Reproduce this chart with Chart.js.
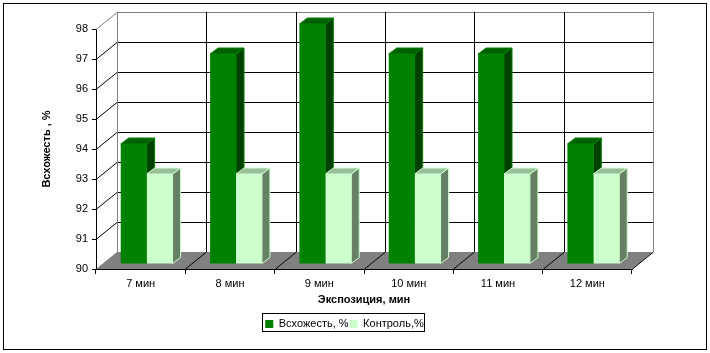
<!DOCTYPE html>
<html>
<head>
<meta charset="utf-8">
<style>
  html, body { margin: 0; padding: 0; background: #fff; }
  canvas { display: block; }
</style>
<script src="https://cdn.jsdelivr.net/npm/chart.js@4"></script>
</head>
<body>
<canvas id="chart" width="710" height="353"></canvas>
<script>
const categories = ["7 мин", "8 мин", "9 мин", "10 мин", "11 мин", "12 мин"];
const germination = [94, 97, 98, 97, 97, 94];
const control = [93, 93, 93, 93, 93, 93];
const yTicks = [90, 91, 92, 93, 94, 95, 96, 97, 98];

// how far the back wall and the bars sit behind the front axis
const wallDepth = { x: 21, y: 17 };
const barShift = { x: 6, y: 5 };
const barDepth = { x: 8, y: 6 };

const faces = [
  { top: "#006000", side: "#004000", edge: "#008000" },
  { top: "#99bf99", side: "#668066", edge: "#ccffcc" }
];

function poly(ctx, points, fill, stroke) {
  ctx.beginPath();
  points.forEach((p, i) => (i ? ctx.lineTo(p[0], p[1]) : ctx.moveTo(p[0], p[1])));
  ctx.closePath();
  if (fill) {
    ctx.fillStyle = fill;
    ctx.fill();
  }
  if (stroke) {
    ctx.strokeStyle = stroke;
    ctx.lineWidth = 1;
    ctx.stroke();
  }
}

function line(ctx, x1, y1, x2, y2, color) {
  ctx.beginPath();
  ctx.moveTo(x1, y1);
  ctx.lineTo(x2, y2);
  ctx.strokeStyle = color;
  ctx.lineWidth = 1;
  ctx.stroke();
}

const scene3d = {
  id: "scene3d",
  afterLayout(chart) {
    // legend is not centred on the plot in the original
    chart.legend.left += 8.5;
    chart.legend.right += 8.5;
  },
  beforeDatasetsDraw(chart) {
    const { ctx, chartArea: area, scales } = chart;
    const dx = wallDepth.x, dy = wallDepth.y;
    const backTop = area.top - dy, backBottom = area.bottom - dy;

    ctx.save();
    // floor
    poly(ctx, [[area.left, area.bottom], [area.right, area.bottom], [area.right + dx, backBottom], [area.left + dx, backBottom]], "#808080");

    // horizontal grid on the back wall and the diagonals on the side wall
    yTicks.forEach((v) => {
      const py = Math.round(scales.y.getPixelForValue(v)) + 0.5;
      if (v > 90 && v < 98) {
        line(ctx, area.left + dx, py - dy, area.right + dx, py - dy, "#000");
        line(ctx, area.left, py, area.left + dx, py - dy, "#000");
      }
      if (v === 98) {
        line(ctx, area.left, py, area.left + dx, py - dy, "#808080");
        line(ctx, area.left + dx, py - dy, area.right + dx, py - dy, "#808080");
      }
    });

    // vertical grid on the back wall, diagonals on the floor
    const step = (area.right - area.left) / categories.length;
    for (let i = 1; i <= categories.length; i++) {
      const px = Math.round(area.left + step * i) + 0.5;
      if (i < categories.length) line(ctx, px + dx, backTop, px + dx, backBottom, "#000");
      line(ctx, px, area.bottom, px + dx, backBottom, "#000");
    }
    line(ctx, area.left + dx + 0.5, backTop, area.left + dx + 0.5, backBottom, "#808080");
    line(ctx, area.right + dx + 0.5, backTop, area.right + dx + 0.5, backBottom, "#808080");

    // bar tops and sides, the fronts come from the bar elements
    [0, 1].forEach((d) => {
      chart.getDatasetMeta(d).data.forEach((bar) => {
        const l = bar.x - bar.width / 2 + barShift.x;
        const r = bar.x + bar.width / 2 + barShift.x;
        const t = bar.y - barShift.y;
        const b = bar.base - barShift.y;
        const ox = barDepth.x, oy = barDepth.y;
        poly(ctx, [[r, t], [r + ox, t - oy], [r + ox, b - oy], [r, b]], faces[d].side, faces[d].edge);
        poly(ctx, [[l, t], [l + ox, t - oy], [r + ox, t - oy], [r, t]], faces[d].top, faces[d].edge);
      });
    });
    ctx.restore();

    ctx.save();
    ctx.translate(barShift.x, -barShift.y);
  },
  afterDatasetsDraw(chart) {
    const { ctx } = chart;
    ctx.restore();

    // legend frame and outer frame
    ctx.strokeStyle = "#000";
    ctx.lineWidth = 1;
    ctx.strokeRect(262.5, 313.5, 162, 18);
    ctx.strokeRect(3.5, 3.5, 703, 346);
  }
};

new Chart(document.getElementById("chart"), {
  type: "bar",
  data: {
    labels: categories,
    datasets: [
      { label: "Всхожесть, %", data: germination, base: 90, backgroundColor: "#008000", borderWidth: 0, clip: false },
      { label: "Контроль,%", data: control, base: 90, backgroundColor: "#ccffcc", borderWidth: 0, clip: false }
    ]
  },
  options: {
    responsive: false,
    animation: false,
    categoryPercentage: 0.58,
    barPercentage: 1,
    layout: { padding: { left: 40, right: 78, top: 29, bottom: 13.5 } },
    plugins: {
      tooltip: { enabled: false },
      legend: {
        position: "bottom",
        onClick: null,
        labels: {
          color: "#000",
          boxWidth: 8,
          boxHeight: 8,
          padding: 1,
          font: { family: "Liberation Sans", size: 11 }
        }
      }
    },
    scales: {
      x: {
        afterFit(scale) { scale.height = 48.5; },
        grid: { drawOnChartArea: false, tickLength: 5, color: "#000", tickColor: "#000" },
        border: { color: "#000" },
        ticks: { color: "#000", maxRotation: 0, padding: 3, font: { family: "Liberation Sans", size: 11 } },
        title: { display: true, text: "Экспозиция, мин", color: "#000", padding: { top: 1, bottom: 10.5 }, font: { family: "Liberation Sans", size: 11, weight: "bold" } }
      },
      y: {
        min: 90,
        max: 98,
        afterFit(scale) { scale.width = 56; },
        grid: { drawOnChartArea: false, tickLength: 4, color: "#000", tickColor: "#000" },
        border: { color: "#000" },
        ticks: { stepSize: 1, color: "#000", padding: 4, font: { family: "Liberation Sans", size: 11 } },
        title: { display: true, text: "Всхожесть , %", color: "#000", padding: 0, font: { family: "Liberation Sans", size: 11, weight: "bold" } }
      }
    }
  },
  plugins: [scene3d]
});
</script>
</body>
</html>
